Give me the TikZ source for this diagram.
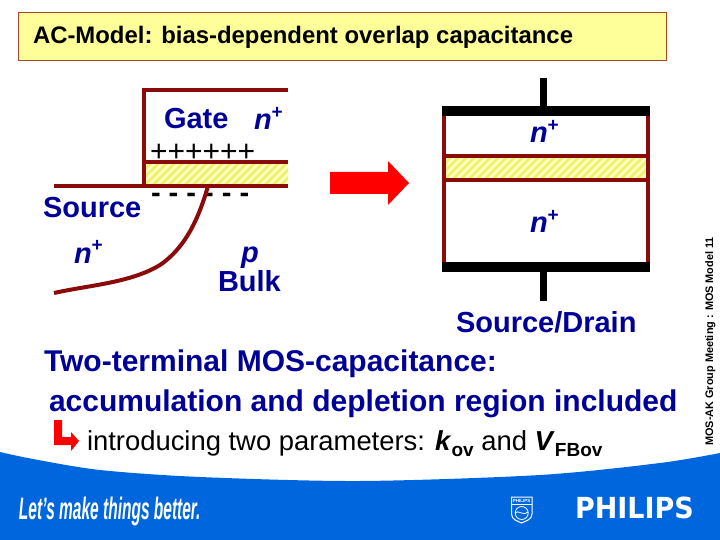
\documentclass[tikz,border=0pt]{standalone}
\usepackage{fontspec}
\setmainfont{Liberation Sans}
\newfontfamily\logofont{DejaVu Sans}
\definecolor{labelblue}{HTML}{000099}
\definecolor{wall}{HTML}{8B0A0A}
\definecolor{footblue}{HTML}{0066DD}
\definecolor{titlefill}{HTML}{FFFF99}
\definecolor{titleedge}{HTML}{A84A2A}
\definecolor{oxidefill}{HTML}{FFFFC8}
\definecolor{oxidehatch}{HTML}{F0F070}
\newcommand{\fsz}[1]{\fontsize{#1}{#1}\selectfont}
\tikzset{
  txt/.style={anchor=base west,inner sep=0pt,outer sep=0pt},
  lbl/.style={txt,text=labelblue,font=\fsz{29}\bfseries},
  line30/.style={txt,text=labelblue,font=\fsz{30}\bfseries},
  wallline/.style={draw=wall,line width=4pt},
  blackbar/.style={fill=black},
  redarrow/.style={fill=red},
  whiteink/.style={text=white}
}
\newcommand{\nplus}{\textit{n}\raisebox{0.38em}{\fsz{19}+}}
\newcommand{\oxide}[4]{% x1 y1 x2 y2
  \begin{scope}
    \clip (#1,#2) rectangle (#3,#4);
    \fill[oxidefill] (#1,#2) rectangle (#3,#4);
    \foreach \k in {0,1,...,30}{
      \draw[oxidehatch,line width=3pt] ({#1+\k*8-24},#4) -- ({#1+\k*8},#2);
    }
  \end{scope}
}
\begin{document}
\begin{tikzpicture}[x=1pt,y=-1pt]
\useasboundingbox (0,0) rectangle (720,540);
\fill[white] (0,0) rectangle (720,540);
% title
\node[draw=titleedge,fill=titlefill,line width=0.8pt,minimum width=648pt,minimum height=48pt,anchor=north west,inner sep=0pt] (titlebox) at (18,12) {};
\node[txt,font=\fsz{23.9}\bfseries] (title) at (33,44) {AC-Model: bias-dependent overlap capacitance};
% footer
\fill[footblue] plot[smooth] coordinates {(0,452) (33,459) (100,470) (200,477) (360,481) (540,475) (660,463) (720,453)} -- (720,540) -- (0,540) -- cycle;
% left cross-section
\oxide{144}{162}{288}{186}
\draw[wallline] (288,90) -- (144,90) -- (144,186);
\draw[wallline] (144,162) -- (288,162);
\draw[wallline] (54,186) -- (288,186);
\node[lbl] (gate) at (164,129) {Gate};
\node[lbl] (ngate) at (254,130) {\nplus};
\node[txt,font=\fsz{30}] (plus) at (150,162) {++++++};
\node[txt,font=\fsz{29}\bfseries] (minus) at (151,202.5) {- - - - - -};
\draw[wall,line width=4pt] (208,186) .. controls (197,225) and (182,250) .. (160,265) .. controls (130,283) and (90,285) .. (54,293);
\node[lbl] (source) at (43,218) {Source};
\node[lbl] (nsource) at (74,263) {\nplus};
\node[lbl,font=\fsz{29}\bfseries\itshape] (pbulk) at (241,262) {p};
\node[lbl] (bulk) at (218,291) {Bulk};
% arrow
\fill[redarrow] (330,172) -- (388,172) -- (388,161) -- (409,183) -- (388,205) -- (388,194) -- (330,194) -- cycle;
% capacitor
\oxide{444}{156}{648}{180}
\draw[wallline] (444,116) -- (444,262);
\draw[wallline] (648,116) -- (648,262);
\draw[wallline] (444,156) -- (648,156);
\draw[wallline] (444,180) -- (648,180);
\fill[blackbar] (442,106) rectangle (650,116);
\fill[blackbar] (442,262) rectangle (650,272);
\fill[blackbar] (540,78) rectangle (547,106);
\fill[blackbar] (540,272) rectangle (547,301);
\node[lbl] (ntop) at (530,143) {\nplus};
\node[lbl] (nbot) at (530,233) {\nplus};
% description
\node[lbl] (sd) at (456,332) {Source/Drain};
\node[line30] (two) at (44,371) {Two-terminal MOS-capacitance:};
\node[line30] (acc) at (49,411) {accumulation and depletion region included};
\fill[redarrow] (54,420) -- (62,420) -- (62,437) -- (71,437) -- (71,432) -- (79,441) -- (71,451) -- (71,445) -- (54,445) -- cycle;
\node[txt,font=\fsz{27.4}] (intro) at (87,450) {introducing two parameters: \textbf{\textit{k}\raisebox{-0.22em}{\fsz{19}ov}} and \textbf{\textit{V}\raisebox{-0.22em}{\fsz{19}FBov}}};
% side label
\node[anchor=base west,inner sep=0pt,rotate=90,font=\fsz{10.9}\bfseries] (side) at (713,446) {MOS-AK Group Meeting : MOS Model 11};
% footer content
\node[txt,whiteink,font=\fsz{31}\bfseries\itshape,xscale=0.5] (slogan) at (19,519) {Let's make things better.};
\node[txt,whiteink,font=\logofont\fsz{29}\bfseries,xscale=0.93] (philips) at (575,518) {PHILIPS};
\draw[white,line width=1pt] (511.5,497) -- (532,497) -- (532,514) .. controls (532,520) and (525,521) .. (521.5,523) .. controls (518,521) and (511.5,520) .. (511.5,514) -- cycle;
\draw[white,line width=0.8pt] (511.5,504) -- (532,504);
\node[whiteink,font=\fsz{4.5}\bfseries,inner sep=0pt] (shieldtext) at (521.7,500.7) {PHILIPS};
\draw[white,line width=0.8pt] (521.7,513) circle (6.5pt);
\draw[white,line width=0.8pt] (515,513) .. controls (518,509) and (524,517) .. (528,512);
\end{tikzpicture}
\end{document}
